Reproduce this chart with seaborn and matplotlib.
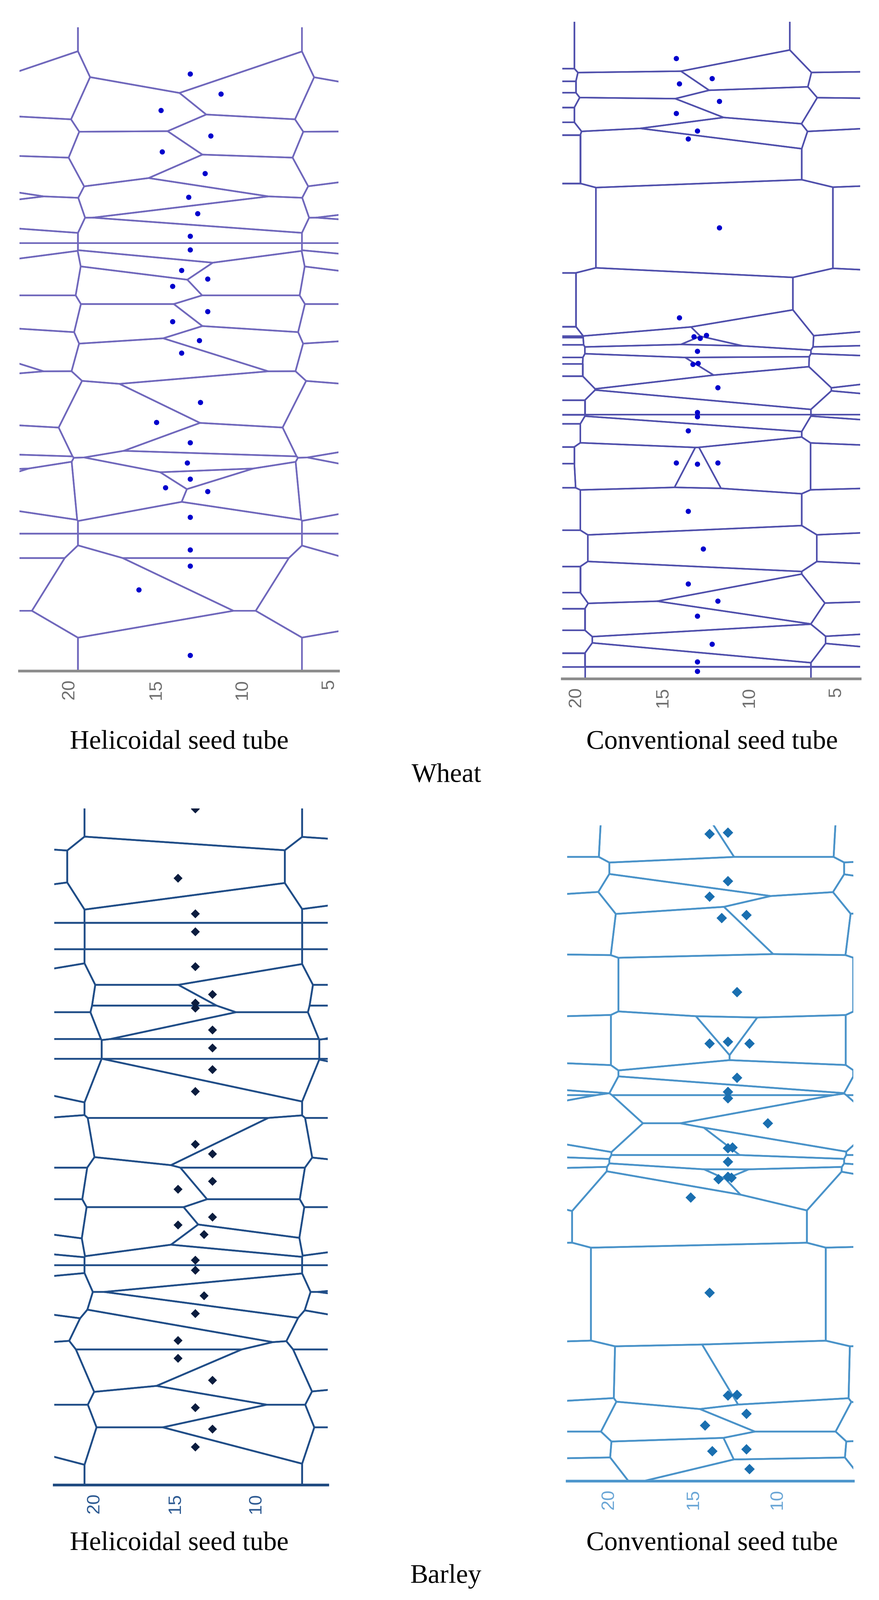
import numpy as np
import pandas as pd
import matplotlib
matplotlib.use("Agg")
import matplotlib.pyplot as plt
import seaborn as sns

# ---------------- data (x = lateral position, y = position along the row) ----------------
# Wheat, helicoidal seed tube
wh_hel_x = [13.01, 11.23, 14.70, 11.82, 14.63, 12.15, 13.10, 12.58, 13.01, 13.01,
            13.51, 12.00, 14.03, 12.00, 14.03, 12.48, 13.51, 12.42, 14.96, 13.01,
            13.18, 13.01, 14.44, 12.00, 13.01, 13.01, 13.01, 15.98, 13.01]
wh_hel_y = [73.52, 71.05, 69.03, 65.89, 63.93, 61.26, 58.34, 56.32, 53.54, 51.86,
            49.33, 48.27, 47.37, 44.26, 43.02, 40.69, 39.15, 33.07, 30.61, 28.11,
            25.62, 23.63, 22.57, 22.10, 18.93, 14.91, 12.92, 9.99, 1.92]

# Wheat, conventional seed tube
wh_con_x = [14.22, 12.15, 14.04, 11.73, 14.22, 13.00, 13.53, 11.73, 14.04, 13.20,
            12.84, 12.48, 13.00, 13.26, 12.96, 11.82, 13.00, 13.00, 13.53, 14.22,
            13.00, 11.82, 13.53, 12.66, 13.53, 11.82, 13.00, 12.15, 13.00, 13.00]
wh_con_y = [108.51, 105.00, 104.08, 101.01, 98.90, 95.83, 94.44, 78.89, 63.15, 59.84,
            59.56, 60.08, 57.29, 55.01, 55.17, 50.92, 46.59, 45.84, 43.38, 37.76,
            37.55, 37.76, 29.30, 22.71, 16.59, 13.59, 10.96, 6.05, 2.96, 1.30]

# Barley, helicoidal seed tube
ba_hel_x = [13.76, 14.83, 13.76, 13.76, 13.76, 12.70, 13.76, 13.76, 12.70, 12.70,
            12.70, 13.76, 13.76, 12.70, 12.70, 14.83, 12.70, 14.83, 13.22, 13.76,
            13.76, 13.22, 13.76, 14.83, 14.83, 12.70, 13.76, 12.70, 13.76]
ba_hel_y = [80.06, 71.85, 67.64, 65.51, 61.38, 58.09, 57.07, 56.47, 53.88, 51.75,
            49.19, 46.60, 40.34, 39.20, 35.96, 35.02, 31.72, 30.79, 29.66, 26.62,
            25.43, 22.41, 20.30, 17.11, 15.00, 12.40, 9.16, 6.62, 4.50]

# Barley, conventional seed tube
ba_con_x = [14.02, 12.93, 12.93, 14.02, 13.30, 11.83, 12.39, 14.02, 12.93, 11.65,
            12.39, 12.93, 12.93, 10.56, 12.93, 12.66, 12.93, 13.49, 12.93, 12.72,
            15.14, 14.02, 12.93, 12.39, 11.83, 14.29, 13.86, 11.83, 11.65]
ba_con_y = [113.18, 113.42, 104.93, 102.22, 98.48, 99.00, 85.52, 76.52, 76.84, 76.52,
            70.54, 68.07, 66.95, 62.57, 58.22, 58.34, 55.84, 52.80, 53.22, 53.05,
            49.59, 32.93, 14.96, 15.07, 11.76, 9.72, 5.22, 5.55, 2.09]

# neighbouring seed rows: the same seeds repeated on the left / right row,
# lateral position of the copy = slope * x + intercept
neighbour_rows = {
    "wh_hel": ((1.0, 13.0), (1.0, -12.92)),
    "wh_con": ((0.0, 26.0), (1.0, -13.1)),
    "ba_hel": ((1.0, 13.7), (1.0, -13.2)),
    "ba_con": ((1.0, 14.1), (1.0, -13.8)),
}

tick_values = [20, 15, 10, 5]
tick_labels = ["20", "15", "10", "5"]

panel_titles = ["Helicoidal seed tube", "Conventional seed tube"]
group_titles = ["Wheat", "Barley"]

# ---------------- helpers ----------------
def clip_poly(poly, a, b, c):
    out = []
    n = len(poly)
    for k in range(n):
        P = poly[k]
        Q = poly[(k + 1) % n]
        fp = a * P[0] + b * P[1] - c
        fq = a * Q[0] + b * Q[1] - c
        if fp <= 0:
            out.append(P)
        if (fp < 0 < fq) or (fq < 0 < fp):
            t = fp / (fp - fq)
            out.append((P[0] + t * (Q[0] - P[0]), P[1] + t * (Q[1] - P[1])))
    return out


def voronoi_frame(xs, ys, box):
    pts = np.column_stack([xs, ys]).astype(float)
    rows = []
    for i, p in enumerate(pts):
        poly = [(box[0], box[2]), (box[1], box[2]), (box[1], box[3]), (box[0], box[3])]
        for j, q in enumerate(pts):
            if i == j:
                continue
            a, b = 2 * (q - p)
            c = q @ q - p @ p
            poly = clip_poly(poly, a, b, c)
            if not poly:
                break
        if poly:
            poly = poly + [poly[0]]
            for k, (vx, vy) in enumerate(poly):
                rows.append((i, k, vx, vy))
    return pd.DataFrame(rows, columns=["cell", "order", "x", "y"])


sns.set_style("white")
plt.rcParams["font.family"] = ["Liberation Sans", "DejaVu Sans"]

W, H = 2706, 4926
fig = plt.figure(figsize=(W / 300, H / 300), dpi=300)
fig.patch.set_facecolor("white")

panels = [
    dict(key="wh_hel", cx=wh_hel_x, cy=wh_hel_y,
         pos=(59.6, 1041.8, 84.2, 2066.0), xlim=(22.90, 4.44), ytop=79.27,
         line="#7068bc", lw=1.2, pt="#0000cc", marker="o", s=15,
         spine="#8c8c8c", lab="#6e6e6e", ticks=4),
    dict(key="wh_con", cx=wh_con_x, cy=wh_con_y,
         pos=(1730.8, 2648.3, 66.6, 2090.0), xlim=(20.81, 3.60), ytop=114.97,
         line="#5050ac", lw=1.15, pt="#0000cc", marker="o", s=15,
         spine="#8c8c8c", lab="#6e6e6e", ticks=4),
    dict(key="ba_hel", cx=ba_hel_x, cy=ba_hel_y,
         pos=(166.6, 1008.8, 2488.6, 4572.0), xlim=(22.49, 5.58), ytop=80.13,
         line="#214e88", lw=1.3, pt="#0b1d3f", marker="D", s=22,
         spine="#1f4a80", lab="#2d5a92", ticks=3),
    dict(key="ba_con", cx=ba_con_x, cy=ba_con_y,
         pos=(1746.2, 2627.1, 2541.2, 4559.8), xlim=(22.48, 5.48), ytop=114.69,
         line="#4a93c9", lw=1.3, pt="#1a6fb0", marker="D", s=30,
         spine="#4d96cc", lab="#6aa6d6", ticks=3),
]

for p in panels:
    l, r, t, b = p["pos"]
    ax = fig.add_axes([l / W, 1 - b / H, (r - l) / W, (b - t) / H])
    (kl, bl), (kr, br) = neighbour_rows[p["key"]]
    cx = np.asarray(p["cx"], float)
    cy = np.asarray(p["cy"], float)
    allx = np.concatenate([cx, kl * cx + bl, kr * cx + br])
    ally = np.concatenate([cy, cy, cy])
    box = (-25.0, 55.0, -50.0, p["ytop"] + 50.0)
    df = voronoi_frame(allx, ally, box)
    sns.lineplot(data=df, x="x", y="y", units="cell", estimator=None, sort=False,
                 color=p["line"], lw=p["lw"], ax=ax, legend=False)
    sns.scatterplot(x=p["cx"], y=p["cy"], ax=ax, color=p["pt"], marker=p["marker"],
                    s=p["s"], edgecolor="none", linewidth=0, zorder=3, legend=False)
    ax.set_xlim(*p["xlim"])
    ax.set_ylim(0, p["ytop"])
    ax.set_xlabel("")
    ax.set_ylabel("")
    ax.set_yticks([])
    n = p["ticks"]
    ax.set_xticks(tick_values[:n])
    ax.set_xticklabels(tick_labels[:n], rotation=90, family="Liberation Sans")
    for s in ["left", "top", "right"]:
        ax.spines[s].set_visible(False)
    ax.spines["bottom"].set_color(p["spine"])
    ax.spines["bottom"].set_linewidth(2.0)
    ax.tick_params(axis="x", direction="in", length=5, width=1.2, color=p["spine"],
                   labelcolor=p["lab"], labelsize=13.5, pad=6)
    ax.set_facecolor("none")

serif = ["Liberation Serif", "DejaVu Serif"]
for yb in (2305.0, 4771.7):
    fig.text(552 / W, 1 - yb / H, panel_titles[0], ha="center", va="baseline",
             fontsize=19.8, family=serif, color="black")
    fig.text(2192 / W, 1 - yb / H, panel_titles[1], ha="center", va="baseline",
             fontsize=19.8, family=serif, color="black")
fig.text(1374 / W, 1 - 2406.7 / H, group_titles[0], ha="center", va="baseline",
         fontsize=19.8, family=serif, color="black")
fig.text(1372 / W, 1 - 4872.7 / H, group_titles[1], ha="center", va="baseline",
         fontsize=19.8, family=serif, color="black")

fig.savefig("out.png", dpi=300, facecolor="white")
